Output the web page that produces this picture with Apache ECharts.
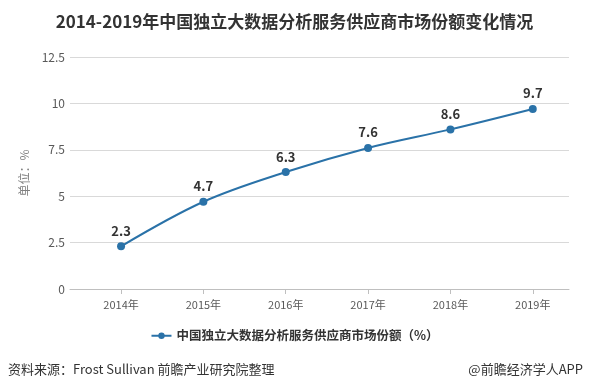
<!DOCTYPE html>
<html><head><meta charset="utf-8">
<script src="https://cdn.jsdelivr.net/npm/echarts@6/dist/echarts.min.js"></script>
<style>html,body{margin:0;padding:0;background:#fff}#c{width:589px;height:391px}</style>
</head><body><div id="c"></div>
<script>
var categories = ['2014年','2015年','2016年','2017年','2018年','2019年'];
var values = [2.3, 4.7, 6.3, 7.6, 8.6, 9.7];
var yTicks = [0, 2.5, 5, 7.5, 10, 12.5];
var seriesName = '中国独立大数据分析服务供应商市场份额（%）';
var titleText = '2014-2019年中国独立大数据分析服务供应商市场份额变化情况';
var sourceText = '资料来源：Frost Sullivan 前瞻产业研究院整理';
var brandText = '@前瞻经济学人APP';

var idx = categories.map(function(_, i){ return i; });
var chart = echarts.init(document.getElementById('c'));
var font = '"Microsoft YaHei","Noto Sans CJK SC",sans-serif';
chart.setOption({
  animation: false,
  textStyle: {fontFamily: font},
  title: {text: titleText, left: 'center', top: 8,
    textStyle: {fontSize: 17, fontWeight: 'bold', color: '#333', fontFamily: font}},
  grid: {left: 70, right: 20, top: 57, bottom: 102, containLabel: false},
  legend: {data: [{name: seriesName}], bottom: 44, left: 'center', itemWidth: 20, itemHeight: 8,
    textStyle: {fontSize: 12.5, fontWeight: 'bold', color: '#333'}},
  xAxis: {type: 'value', min: -0.62, max: 5.44,
    axisLine: {show: true, lineStyle: {color: '#bfbfbf'}},
    axisTick: {show: true, customValues: idx, length: 5, lineStyle: {color: '#bfbfbf'}},
    axisLabel: {customValues: idx, color: '#595959', fontSize: 11, margin: 10,
      formatter: function(v){ return categories[Math.round(v)]; }},
    splitLine: {show: false}},
  yAxis: {type: 'value', min: 0, max: 12.5, interval: 2.5,
    name: '单位：%', nameLocation: 'middle', nameGap: 33, nameRotate: 90,
    nameTextStyle: {color: '#7f7f7f', fontSize: 12},
    axisLine: {show: false}, axisTick: {show: false},
    axisLabel: {color: '#595959', fontSize: 12, margin: 5},
    splitLine: {lineStyle: {color: '#d9d9d9'}}},
  series: [{
    name: seriesName, type: 'line', smooth: 0.35,
    data: values.map(function(v, i){ return [idx[i], v]; }),
    symbol: 'circle', symbolSize: 8,
    lineStyle: {color: '#2a72a8', width: 2},
    itemStyle: {color: '#2a72a8'},
    label: {show: true, position: 'top', distance: 5, fontSize: 13, fontWeight: 'bold', color: '#333'}
  }],
  graphic: [
    {type: 'text', left: 8, top: 363, style: {text: sourceText, fontSize: 13, fill: '#333', fontFamily: font}},
    {type: 'text', right: 6, top: 363, style: {text: brandText, fontSize: 13, fill: '#333', fontFamily: font}}
  ]
});
</script></body></html>
